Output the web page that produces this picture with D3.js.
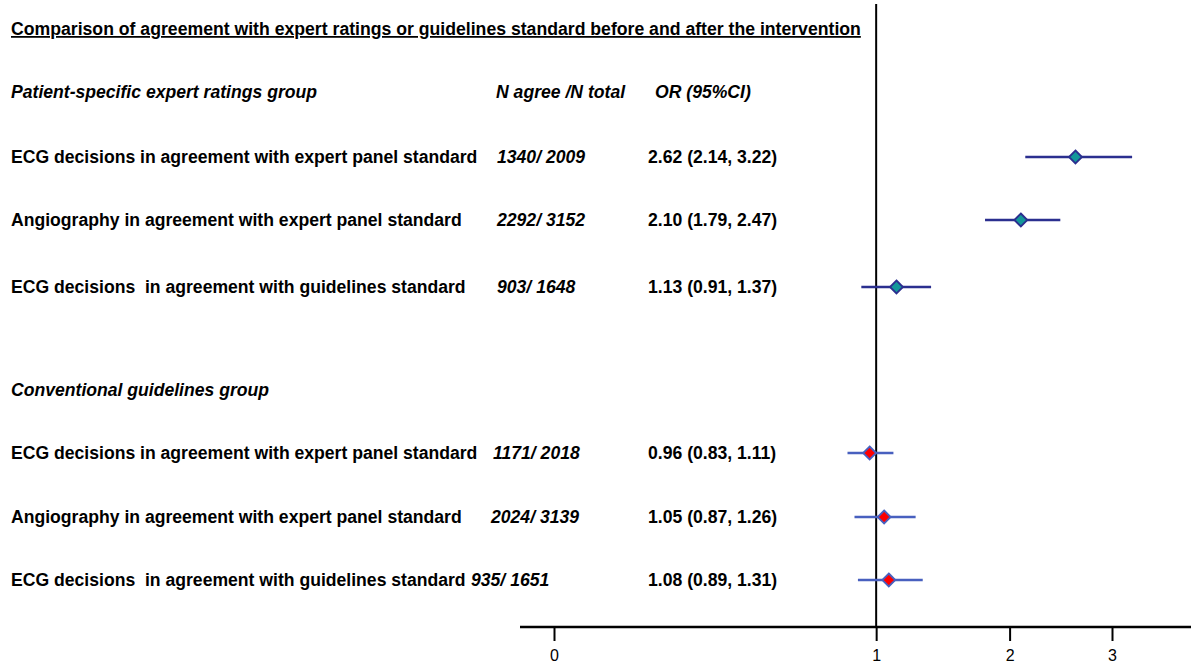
<!DOCTYPE html>
<html>
<head>
<meta charset="utf-8">
<script src="https://d3js.org/d3.v7.min.js"></script>
<style>
body { margin: 0; background: #fff; }
text { font-family: "Liberation Sans", Arial, sans-serif; white-space: pre; }
</style>
</head>
<body>
<div id="layout"></div>
<script>
// chart data
var title = 'Comparison of agreement with expert ratings or guidelines standard before and after the intervention';
var groups = ['Patient-specific expert ratings group', 'Conventional guidelines group'];
var labels = [
	'ECG decisions in agreement with expert panel standard',
	'Angiography in agreement with expert panel standard',
	'ECG decisions  in agreement with guidelines standard'
];
var nAgree = [[1340, 2292, 903], [1171, 2024, 935]];
var nTotal = [[2009, 3152, 1648], [2018, 3139, 1651]];
var orValue = [[2.62, 2.10, 1.13], [0.96, 1.05, 1.08]];
var ciLow = [[2.14, 1.79, 0.91], [0.83, 0.87, 0.89]];
var ciHigh = [[3.22, 2.47, 1.37], [1.11, 1.26, 1.31]];
var tickValues = [0, 1, 2, 3];

// layout
var width = 1191, height = 667;
var fs = '17.6px';
var groupY = [92, 390];
var rowY = [[157, 220, 287], [453, 517, 580]];
var nX = [[497, 497, 497], [493, 491, 471]];
var axisY = 627;
var lineCol = ['#2b2f8f', '#4860bf'];
var fillCol = ['#13979a', '#ff0000'];

var svg = d3.select('#layout').append('svg')
	.attr('width', width)
	.attr('height', height);

var x = d3.scaleSqrt().domain([0, 3]).range([554, 1112]);

// title
svg.append('text')
	.attr('x', 11)
	.attr('y', 35)
	.attr('font-size', '17.65px')
	.attr('font-weight', '700')
	.style('text-decoration', 'underline')
	.text(title);

// column headers
var head = svg.append('g')
	.attr('font-size', fs)
	.attr('font-weight', '700')
	.attr('font-style', 'italic');
head.append('text').attr('x', 496).attr('y', groupY[0] + 6).text('N agree /N total');
head.append('text').attr('x', 655).attr('y', groupY[0] + 6).text('OR (95%CI)');

// reference line at OR = 1
svg.append('line')
	.attr('x1', x(1)).attr('x2', x(1))
	.attr('y1', 4).attr('y2', axisY)
	.attr('stroke', '#000')
	.attr('stroke-width', 2);

// x axis
var axisG = svg.append('g')
	.attr('transform', 'translate(0,' + axisY + ')')
	.call(d3.axisBottom(x).tickValues(tickValues).tickSize(14).tickSizeOuter(0).tickPadding(9).tickFormat(d3.format('d')));
axisG.select('.domain').remove();
axisG.selectAll('.tick line').attr('stroke', '#000').attr('stroke-width', 2);
axisG.selectAll('.tick text')
	.attr('fill', '#000')
	.attr('font-size', '16px')
	.attr('font-family', '"Liberation Sans", Arial, sans-serif');
axisG.append('line')
	.attr('x1', 520).attr('x2', width)
	.attr('y1', 0).attr('y2', 0)
	.attr('stroke', '#000')
	.attr('stroke-width', 2.5);

groups.forEach(function(g, gi) {
	var grp = svg.append('g');

	grp.append('text')
		.attr('x', 11)
		.attr('y', groupY[gi] + 6)
		.attr('font-size', fs)
		.attr('font-weight', '700')
		.attr('font-style', 'italic')
		.text(g);

	var rows = labels.map(function(l, i) {
		return {label: l, a: nAgree[gi][i], t: nTotal[gi][i], or: orValue[gi][i],
			lo: ciLow[gi][i], hi: ciHigh[gi][i], y: rowY[gi][i], nx: nX[gi][i]};
	});

	var row = grp.selectAll('g.row')
		.data(rows)
		.enter()
		.append('g')
		.attr('class', 'row');

	row.append('text')
		.attr('x', 11)
		.attr('y', function(d) { return d.y + 6; })
		.attr('font-size', fs)
		.attr('font-weight', '700')
		.text(function(d) { return d.label; });

	row.append('text')
		.attr('x', function(d) { return d.nx; })
		.attr('y', function(d) { return d.y + 6; })
		.attr('font-size', fs)
		.attr('font-weight', '700')
		.attr('font-style', 'italic')
		.text(function(d) { return d.a + '/ ' + d.t; });

	row.append('text')
		.attr('x', 648)
		.attr('y', function(d) { return d.y + 6; })
		.attr('font-size', fs)
		.attr('font-weight', '700')
		.text(function(d) { return d.or.toFixed(2) + ' (' + d.lo.toFixed(2) + ', ' + d.hi.toFixed(2) + ')'; });

	// confidence interval whiskers
	row.append('line')
		.attr('x1', function(d) { return x(d.lo); })
		.attr('x2', function(d) { return x(d.hi); })
		.attr('y1', function(d) { return d.y; })
		.attr('y2', function(d) { return d.y; })
		.attr('stroke', lineCol[gi])
		.attr('stroke-width', 2.4);

	// point estimate diamond
	row.append('path')
		.attr('d', 'M0,-6.5L6.5,0L0,6.5L-6.5,0Z')
		.attr('transform', function(d) { return 'translate(' + x(d.or) + ',' + d.y + ')'; })
		.attr('fill', fillCol[gi])
		.attr('stroke', lineCol[gi])
		.attr('stroke-width', 1.8);
});
</script>
</body>
</html>
